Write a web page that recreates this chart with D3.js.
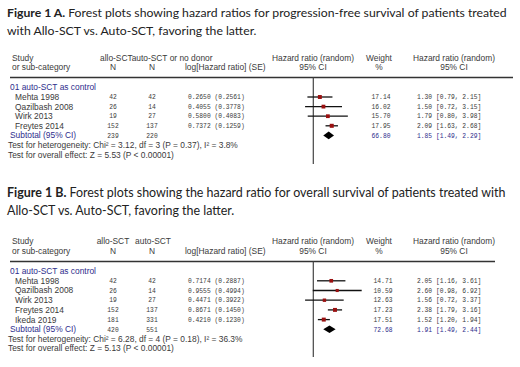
<!DOCTYPE html>
<html>
<head>
<meta charset="utf-8">
<script src="https://cdn.jsdelivr.net/npm/d3@7"></script>
<style>
  body { margin: 0; background: #fff; }
  svg text { fill: #3a3a3a; }
</style>
</head>
<body>
<div id="wrapper"></div>
<script>
// panel A: progression-free survival
const studiesA = ["Mehta 1998", "Qazilbash 2008", "Wirk 2013", "Freytes 2014"];
const alloA = [42, 26, 19, 152];
const autoA = [42, 14, 27, 137];
const logHrA = ["0.2650 (0.2561)", "0.4055 (0.3778)", "0.5800 (0.4083)", "0.7372 (0.1259)"];
const weightA = [17.14, 16.02, 15.70, 17.95];
const hrA = [1.30, 1.50, 1.79, 2.09];
const lowA = [0.79, 0.72, 0.80, 1.63];
const highA = [2.15, 3.15, 3.98, 2.68];
const subtotalA = { allo: 239, auto: 220, weight: 66.80, hr: 1.85, low: 1.49, high: 2.29 };
const hetA = "Test for heterogeneity: Chi\u00b2 = 3.12, df = 3 (P = 0.37), I\u00b2 = 3.8%";
const overallA = "Test for overall effect: Z = 5.53 (P < 0.00001)";

// panel B: overall survival
const studiesB = ["Mehta 1998", "Qazilbash 2008", "Wirk 2013", "Freytes 2014", "Ikeda 2019"];
const alloB = [42, 26, 19, 152, 181];
const autoB = [42, 14, 27, 137, 331];
const logHrB = ["0.7174 (0.2887)", "0.9555 (0.4994)", "0.4471 (0.3922)", "0.8671 (0.1450)", "0.4210 (0.1230)"];
const weightB = [14.71, 10.59, 12.63, 17.23, 17.51];
const hrB = [2.05, 2.60, 1.56, 2.38, 1.52];
const lowB = [1.16, 0.98, 0.72, 1.79, 1.20];
const highB = [3.61, 6.92, 3.37, 3.16, 1.94];
const subtotalB = { allo: 420, auto: 551, weight: 72.68, hr: 1.91, low: 1.49, high: 2.44 };
const hetB = "Test for heterogeneity: Chi\u00b2 = 6.28, df = 4 (P = 0.18), I\u00b2 = 36.3%";
const overallB = "Test for overall effect: Z = 5.13 (P < 0.00001)";

const titleA = ["Forest plots showing hazard ratios for progression-free survival of patients treated",
                "with Allo-SCT vs. Auto-SCT, favoring the latter."];
const titleB = ["Forest plots showing the hazard ratio for overall survival of patients treated with",
                "Allo-SCT vs. Auto-SCT, favoring the latter."];

const width = 520, height = 367;
const sans = "'Liberation Sans Narrow', 'Liberation Sans', Arial, sans-serif";
const mono = "'Liberation Mono', 'DejaVu Sans Mono', monospace";
const titleFont = "Lato, 'Open Sans', sans-serif";
const sansSize = '8.4px';
const monoSize = '6.3px';
const blue = "#2e2e8c";
const red = "#9a1010";

const svg = d3.select('#wrapper')
    .append('svg')
    .attr('width', width)
    .attr('height', height);

// title: first line sized so it spans the same width as the original
function drawTitle(label, lines, y, targetWidth) {
    const t = svg.append('text')
        .attr('x', 7).attr('y', y)
        .style('font-family', titleFont)
        .style('font-size', '13px')
        .style('fill', '#222');
    t.append('tspan').style('font-weight', 'bold').text(label + ' ');
    t.append('tspan').text(lines[0]);
    const size = 13 * targetWidth / t.node().getComputedTextLength();
    t.style('font-size', size + 'px');
    svg.append('text')
        .attr('x', 7).attr('y', y + 18)
        .style('font-family', titleFont)
        .style('font-size', size + 'px')
        .style('fill', '#222')
        .text(lines[1]);
}

function drawPanel(p) {
    const g = svg.append('g');
    const n = p.studies.length;
    const rowY = i => p.firstRow + i * p.step;
    const subY = rowY(n);

    const txt = (x, y, s, opts = {}) => g.append('text')
        .attr('x', x).attr('y', y)
        .attr('dy', '0.35em')
        .attr('text-anchor', opts.anchor || 'start')
        .style('font-family', opts.font || sans)
        .style('font-size', opts.size || sansSize)
        .style('fill', opts.color || '#3a3a3a')
        .text(s);
    const num = (x, y, s, anchor, color) =>
        txt(x, y, s, { anchor: anchor, font: mono, size: monoSize, color: color });

    // header
    txt(12, p.headY, "Study");
    txt(12, p.headY + 9.5, "or sub-category");
    p.colHead(txt);
    txt(113, p.headY + 9.5, "N", { anchor: 'middle' });
    txt(152, p.headY + 9.5, "N", { anchor: 'middle' });
    txt(185, p.headY + 9.5, "log[Hazard ratio] (SE)");
    txt(313, p.headY, "Hazard ratio (random)", { anchor: 'middle' });
    txt(313, p.headY + 9.5, "95% CI", { anchor: 'middle' });
    txt(379, p.headY, "Weight", { anchor: 'middle' });
    txt(379, p.headY + 9.5, "%", { anchor: 'middle' });
    txt(454, p.headY, "Hazard ratio (random)", { anchor: 'middle' });
    txt(454, p.headY + 9.5, "95% CI", { anchor: 'middle' });

    g.append('line')
        .attr('x1', 10).attr('x2', p.lineEnd)
        .attr('y1', p.ruleY).attr('y2', p.ruleY)
        .attr('stroke', '#333').attr('stroke-width', 1.4);

    txt(10, p.firstRow - p.step, "01 auto-SCT as control", { color: blue });

    const xScale = d3.scaleLog()
        .domain([0.1, 10])
        .range([313.3 - 57.6, 313.3 + 57.6]);

    // line of no effect
    g.append('line')
        .attr('x1', xScale(1)).attr('x2', xScale(1))
        .attr('y1', p.ruleY).attr('y2', p.nullEnd)
        .attr('stroke', '#444').attr('stroke-width', 1.2);

    p.studies.forEach((s, i) => {
        const y = rowY(i);
        txt(15, y, s);
        num(113, y, p.allo[i], 'middle');
        num(152, y, p.auto[i], 'middle');
        num(188, y, p.logHr[i]);
        num(p.weightX, y, p.weight[i].toFixed(2), 'middle');
        num(417, y, `${p.hr[i].toFixed(2)} [${p.low[i].toFixed(2)}, ${p.high[i].toFixed(2)}]`);

        g.append('line')
            .attr('x1', xScale(p.low[i])).attr('x2', xScale(p.high[i]))
            .attr('y1', y).attr('y2', y)
            .attr('stroke', '#111').attr('stroke-width', 1.3);
        const sz = Math.sqrt(p.weight[i]) * 0.95;
        g.append('rect')
            .attr('x', xScale(p.hr[i]) - sz / 2).attr('y', y - sz / 2)
            .attr('width', sz).attr('height', sz)
            .attr('fill', red);
    });

    const st = p.subtotal;
    txt(10, subY, "Subtotal (95% CI)", { color: blue });
    num(113, subY, st.allo, 'middle');
    num(152, subY, st.auto, 'middle');
    num(p.weightX, subY, st.weight.toFixed(2), 'middle', blue);
    num(417, subY, `${st.hr.toFixed(2)} [${st.low.toFixed(2)}, ${st.high.toFixed(2)}]`, 'start', blue);

    const dh = 3.8;
    g.append('path')
        .attr('d', `M${xScale(st.low)},${subY} L${xScale(st.hr)},${subY - dh} L${xScale(st.high)},${subY} L${xScale(st.hr)},${subY + dh} Z`)
        .attr('fill', '#000');

    txt(8, subY + p.hetGap, p.het);
    txt(8, subY + p.hetGap + p.step, p.overall);
}

drawTitle("Figure 1 A.", titleA, 17, 500);
drawPanel({
    studies: studiesA, allo: alloA, auto: autoA, logHr: logHrA, weight: weightA,
    hr: hrA, low: lowA, high: highA, subtotal: subtotalA, het: hetA, overall: overallA,
    headY: 58, ruleY: 77.5, firstRow: 97, step: 9.6, hetGap: 10, lineEnd: 513, nullEnd: 164, weightX: 381,
    colHead: txt => txt(100, 58, "allo-SCTauto-SCT or no donor")
});

drawTitle("Figure 1 B.", titleB, 197, 499);
drawPanel({
    studies: studiesB, allo: alloB, auto: autoB, logHr: logHrB, weight: weightB,
    hr: hrB, low: lowB, high: highB, subtotal: subtotalB, het: hetB, overall: overallB,
    headY: 241.5, ruleY: 261.5, firstRow: 280.8, step: 9.7, hetGap: 9.5, lineEnd: 495, nullEnd: 357, weightX: 383,
    colHead: txt => {
        txt(113, 241.5, "allo-SCT", { anchor: 'middle' });
        txt(153, 241.5, "auto-SCT", { anchor: 'middle' });
    }
});
</script>
</body>
</html>
